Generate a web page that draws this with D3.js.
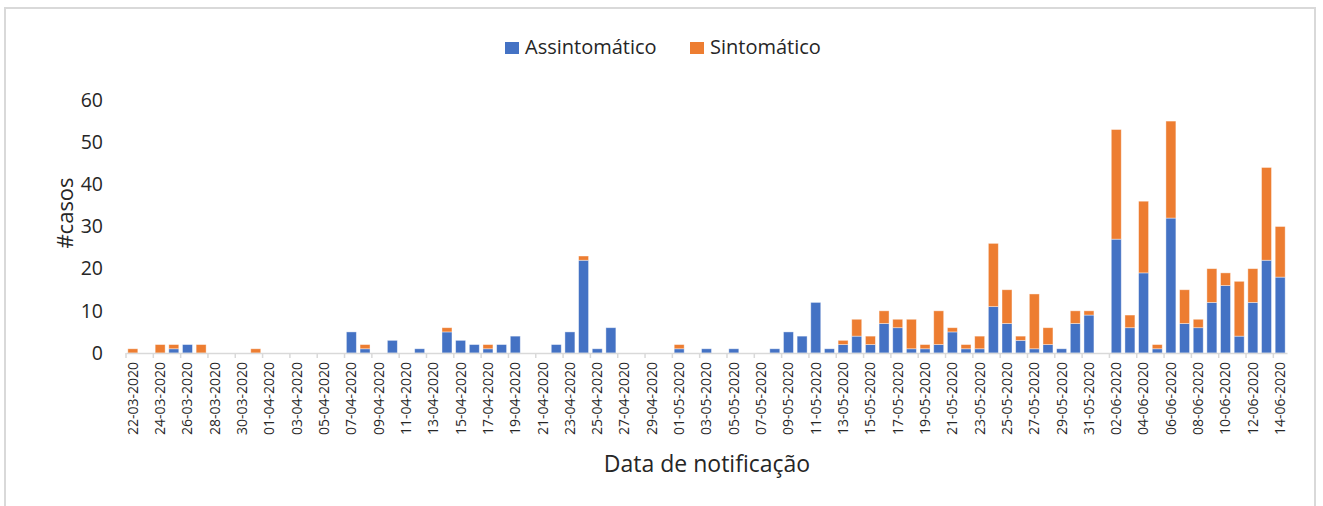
<!DOCTYPE html>
<html>
<head>
<meta charset="utf-8">
<script src="https://cdn.jsdelivr.net/npm/d3@7"></script>
<style>
    body { margin: 0; background: #fff; }
    text { font-family: "Open Sans", "Noto Sans", sans-serif; fill: #262626; }
</style>
</head>
<body>
<div id="chart"></div>
<script>
var dates = [
    "22-03-2020", "23-03-2020", "24-03-2020", "25-03-2020", "26-03-2020", "27-03-2020", "28-03-2020", "29-03-2020", "30-03-2020", "31-03-2020",
    "01-04-2020", "02-04-2020", "03-04-2020", "04-04-2020", "05-04-2020", "06-04-2020", "07-04-2020", "08-04-2020", "09-04-2020", "10-04-2020",
    "11-04-2020", "12-04-2020", "13-04-2020", "14-04-2020", "15-04-2020", "16-04-2020", "17-04-2020", "18-04-2020", "19-04-2020", "20-04-2020",
    "21-04-2020", "22-04-2020", "23-04-2020", "24-04-2020", "25-04-2020", "26-04-2020", "27-04-2020", "28-04-2020", "29-04-2020", "30-04-2020",
    "01-05-2020", "02-05-2020", "03-05-2020", "04-05-2020", "05-05-2020", "06-05-2020", "07-05-2020", "08-05-2020", "09-05-2020", "10-05-2020",
    "11-05-2020", "12-05-2020", "13-05-2020", "14-05-2020", "15-05-2020", "16-05-2020", "17-05-2020", "18-05-2020", "19-05-2020", "20-05-2020",
    "21-05-2020", "22-05-2020", "23-05-2020", "24-05-2020", "25-05-2020", "26-05-2020", "27-05-2020", "28-05-2020", "29-05-2020", "30-05-2020",
    "31-05-2020", "01-06-2020", "02-06-2020", "03-06-2020", "04-06-2020", "05-06-2020", "06-06-2020", "07-06-2020", "08-06-2020", "09-06-2020",
    "10-06-2020", "11-06-2020", "12-06-2020", "13-06-2020", "14-06-2020"
];

var assintomatico = [
    0, 0, 0, 1, 2, 0, 0, 0, 0, 0,
    0, 0, 0, 0, 0, 0, 5, 1, 0, 3,
    0, 1, 0, 5, 3, 2, 1, 2, 4, 0,
    0, 2, 5, 22, 1, 6, 0, 0, 0, 0,
    1, 0, 1, 0, 1, 0, 0, 1, 5, 4,
    12, 1, 2, 4, 2, 7, 6, 1, 1, 2,
    5, 1, 1, 11, 7, 3, 1, 2, 1, 7,
    9, 0, 27, 6, 19, 1, 32, 7, 6, 12,
    16, 4, 12, 22, 18
];

var sintomatico = [
    1, 0, 2, 1, 0, 2, 0, 0, 0, 1,
    0, 0, 0, 0, 0, 0, 0, 1, 0, 0,
    0, 0, 0, 1, 0, 0, 1, 0, 0, 0,
    0, 0, 0, 1, 0, 0, 0, 0, 0, 0,
    1, 0, 0, 0, 0, 0, 0, 0, 0, 0,
    0, 0, 1, 4, 2, 3, 2, 7, 1, 8,
    1, 1, 3, 15, 8, 1, 13, 4, 0, 3,
    1, 0, 26, 3, 17, 1, 23, 8, 2, 8,
    3, 13, 8, 22, 12
];

var seriesNames = ["Assintomático", "Sintomático"];
var colors = ["#4472C4", "#ED7D31"];
var yTicks = [0, 10, 20, 30, 40, 50, 60];

var width = 1323;
var height = 506;
var plotLeft = 126;
var plotRight = 1287;
var plotTop = 100;
var plotBottom = 353;

var svg = d3.select("#chart")
    .append("svg")
    .attr("width", width)
    .attr("height", height);

// chart border
svg.append("rect")
    .attr("x", 5)
    .attr("y", 8)
    .attr("width", 1310)
    .attr("height", 510)
    .attr("fill", "#fff")
    .attr("stroke", "#d9d9d9")
    .attr("stroke-width", 2);

var rows = dates.map(function(d, i) {
    return { date: d, a: assintomatico[i], s: sintomatico[i] };
});

var stacked = d3.stack().keys(["a", "s"])(rows);

var xScale = d3.scaleBand()
    .domain(dates)
    .range([plotLeft, plotRight])
    .paddingInner(0.27)
    .paddingOuter(0.135);

var yScale = d3.scaleLinear()
    .domain([0, 60])
    .range([plotBottom, plotTop]);

// bars
svg.selectAll("g.series")
    .data(stacked)
    .enter()
    .append("g")
    .attr("class", "series")
    .attr("fill", (d, i) => colors[i])
    .selectAll("rect")
    .data((d) => d.filter((p) => p[1] > p[0]))
    .enter()
    .append("rect")
    .attr("x", (p) => xScale(p.data.date))
    .attr("y", (p) => yScale(p[1]))
    .attr("width", xScale.bandwidth())
    .attr("height", (p) => yScale(p[0]) - yScale(p[1]))
    .attr("stroke", "#fff")
    .attr("stroke-opacity", 0.5)
    .attr("stroke-width", 0.8);

// y axis (labels only)
var yAxis = d3.axisLeft(yScale)
    .tickValues(yTicks)
    .tickSize(0)
    .tickPadding(0);

var yG = svg.append("g")
    .attr("transform", "translate(103,0)")
    .call(yAxis);
yG.select(".domain").remove();
yG.selectAll("text")
    .style("font-size", "19.5px")
    .attr("fill", "#262626");

// x axis
var xLabels = dates.filter((d, i) => i % 2 === 0);
var xAxis = d3.axisBottom(xScale)
    .tickValues(xLabels)
    .tickSize(0)
    .tickSizeOuter(0);

var xG = svg.append("g")
    .attr("transform", "translate(0," + plotBottom + ")")
    .call(xAxis);
xG.select(".domain")
    .attr("stroke", "#d9d9d9")
    .attr("stroke-width", 1.5);
xG.selectAll("text")
    .style("font-size", "14px")
    .attr("fill", "#262626")
    .attr("transform", "rotate(-90)")
    .attr("text-anchor", "end")
    .attr("x", -9)
    .attr("y", 0)
    .attr("dy", "0.35em");

// tick marks between every other category
var step = xScale.step();
var tickPos = d3.range(0, dates.length + 1, 2).map((k) => plotLeft + k * step);
svg.selectAll("line.xtick")
    .data(tickPos)
    .enter()
    .append("line")
    .attr("class", "xtick")
    .attr("x1", (d) => d)
    .attr("x2", (d) => d)
    .attr("y1", plotBottom)
    .attr("y2", plotBottom + 5)
    .attr("stroke", "#d9d9d9")
    .attr("stroke-width", 1.5);

// axis titles
svg.append("text")
    .attr("x", 707)
    .attr("y", 472)
    .attr("text-anchor", "middle")
    .style("font-size", "23px")
    .text("Data de notificação");

svg.append("text")
    .attr("transform", "translate(73,213) rotate(-90)")
    .attr("text-anchor", "middle")
    .style("font-size", "22px")
    .text("#casos");

// legend
var legendX = [505, 690];
var legend = svg.selectAll("g.legend")
    .data(seriesNames)
    .enter()
    .append("g")
    .attr("class", "legend")
    .attr("transform", (d, i) => "translate(" + legendX[i] + ",41)");

legend.append("rect")
    .attr("width", 14)
    .attr("height", 12)
    .attr("y", 1)
    .attr("fill", (d, i) => colors[i]);

legend.append("text")
    .attr("x", 20)
    .attr("y", 13)
    .style("font-size", "20px")
    .text((d) => d);
</script>
</body>
</html>
